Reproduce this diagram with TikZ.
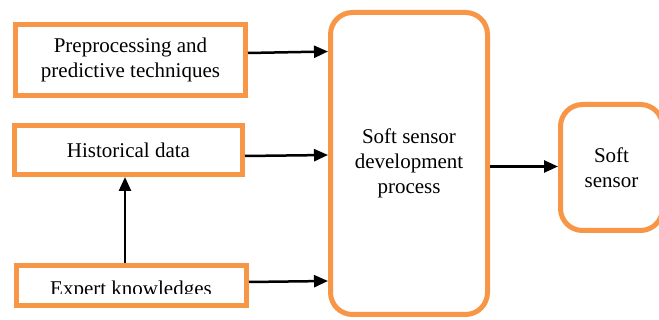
\documentclass[tikz,border=0pt]{standalone}
\usepackage{fontspec}
\setmainfont{Liberation Serif}
\usetikzlibrary{arrows.meta}
\definecolor{boxorange}{HTML}{F79646}
\begin{document}
\begin{tikzpicture}[x=1pt,y=-1pt,
  box/.style={draw=boxorange, line width=5pt, outer sep=2.5pt, fill=white,
    inner sep=0pt, align=center, font=\fontsize{21}{25}\selectfont},
  roundbox/.style={box, rounded corners=22pt},
  flow/.style={line width=2.5pt, -{Triangle[length=14pt,width=12pt]}}]
\useasboundingbox (0,0) rectangle (659,320);

% input blocks
\node[box, minimum width=230pt, minimum height=71pt] (prep) at (130.5,60)
  {Preprocessing and\\predictive techniques};
\node[box, minimum width=228pt, minimum height=49pt] (hist) at (128.5,150)
  {Historical data};
\node[box, minimum width=230pt, minimum height=40pt] (expert) at (131.5,285.5) {};
\begin{scope}
  \clip (16,265) rectangle (247,293.5);
  \node[font=\fontsize{21}{25}\selectfont, inner sep=0pt, anchor=base] (experttext)
    at (131,296) {Expert knowledges};
\end{scope}

% process and result
\node[roundbox, minimum width=157pt, minimum height=302pt] (dev) at (409,163.5)
  {Soft sensor\\development\\process};
\node[roundbox, minimum width=102pt, minimum height=126pt] (soft) at (611.5,167.5)
  {Soft\\sensor};

% connectors
\draw[flow] (prep.east |- 0,53) -- (dev.west |- 0,51.5);
\draw[flow] (hist.east |- 0,156) -- (dev.west |- 0,155);
\draw[flow] (expert.east |- 0,282) -- (dev.west |- 0,281);
\draw[flow] (expert.north -| 125,0) -- (hist.south -| 125,0);
\draw[flow] (dev.east |- 0,166.5) -- (soft.west |- 0,166.5);
\end{tikzpicture}
\end{document}
